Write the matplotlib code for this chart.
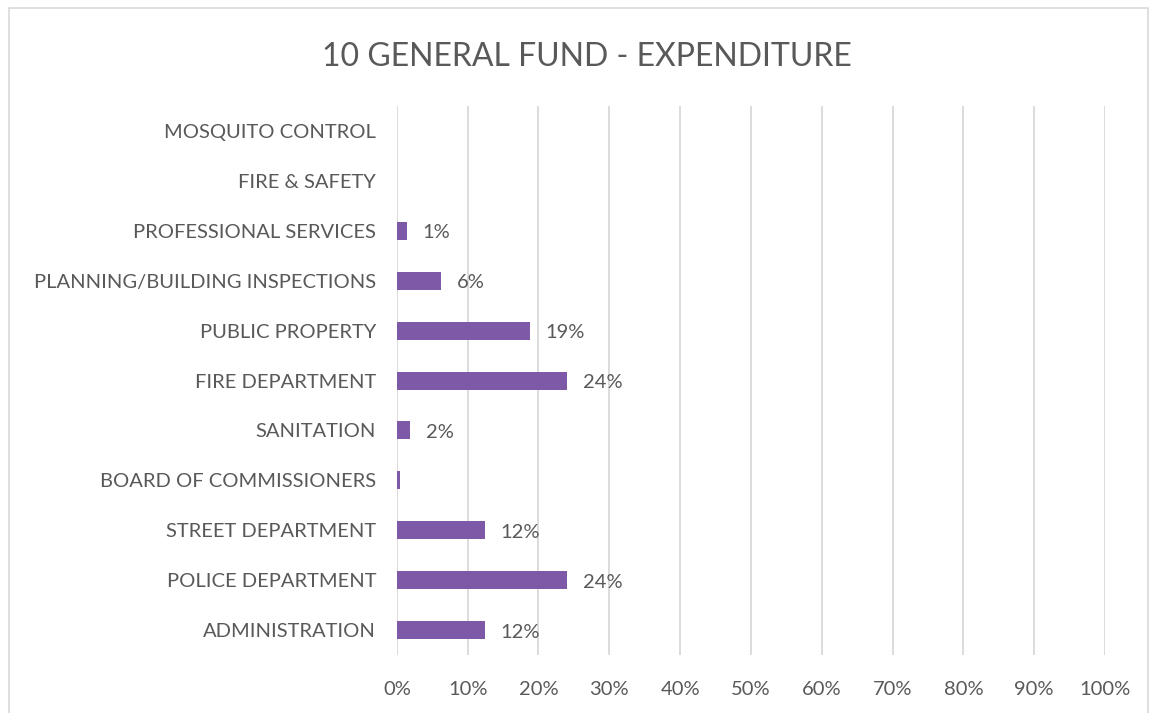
import matplotlib
matplotlib.use("Agg")
import matplotlib.pyplot as plt
from matplotlib.patches import Rectangle
from matplotlib.ticker import PercentFormatter

plt.rcParams["font.family"] = ["Lato", "DejaVu Sans"]

# departments, bottom row first
departments = ["ADMINISTRATION", "POLICE DEPARTMENT", "STREET DEPARTMENT",
               "BOARD OF COMMISSIONERS", "SANITATION", "FIRE DEPARTMENT",
               "PUBLIC PROPERTY", "PLANNING/BUILDING INSPECTIONS",
               "PROFESSIONAL SERVICES", "FIRE & SAFETY", "MOSQUITO CONTROL"]
# share of general fund expenditure
shares = [0.124, 0.241, 0.124, 0.004, 0.019, 0.241, 0.188, 0.063, 0.014, 0.0, 0.0]
x_ticks = [0, 0.1, 0.2, 0.3, 0.4, 0.5, 0.6, 0.7, 0.8, 0.9, 1.0]

BAR = "#7E59A8"
TXT = "#595959"
GRID = "#D9D9D9"

fig = plt.figure(figsize=(11.57, 7.13), dpi=100)
ax = fig.add_axes([0.343, 0.0813, 0.612, 0.7700])

y = range(len(departments))
ax.barh(y, shares, height=0.36, color=BAR, zorder=3)

# value labels (skip the ones that round to 0%)
for yi, v in zip(y, shares):
    if round(v * 100) >= 1:
        ax.annotate(f"{v:.0%}", (v, yi), xytext=(11, -1.5), textcoords="offset points",
                    ha="left", va="center", fontsize=14.5, color=TXT)

ax.set_xlim(0, 1)
ax.set_ylim(-0.5, len(departments) - 0.5)
ax.set_xticks(x_ticks)
ax.xaxis.set_major_formatter(PercentFormatter(1.0, decimals=0))
ax.set_yticks(list(y))
ax.set_yticklabels(departments)
ax.tick_params(axis="x", length=0, pad=19, labelsize=14.5, labelcolor=TXT)
ax.tick_params(axis="y", length=0, pad=15, labelsize=14.5, labelcolor=TXT)
ax.grid(axis="x", color=GRID, lw=1.3, zorder=0)
for s in ax.spines.values():
    s.set_visible(False)

fig.text(0.507, 0.92, "10 GENERAL FUND - EXPENDITURE", ha="center", va="center",
         fontsize=23, color=TXT)

# chart area frame
fig.patches.append(Rectangle((0.0078, -0.02), 0.9845, 1.0088, transform=fig.transFigure,
                             fill=False, edgecolor=GRID, lw=1.2))

fig.savefig("out.png", dpi=100, facecolor="white")
